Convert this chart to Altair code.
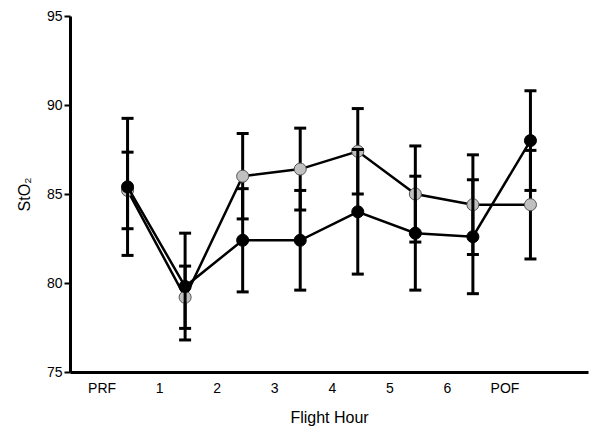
import altair as alt
import pandas as pd

categories = ["PRF", "1", "2", "3", "4", "5", "6", "POF"]
black_mean = [85.4, 79.8, 82.4, 82.4, 84.0, 82.8, 82.6, 88.0]
black_err = [3.85, 3.0, 2.9, 2.8, 3.5, 3.2, 3.2, 2.8]
gray_mean = [85.2, 79.2, 86.0, 86.4, 87.4, 85.0, 84.4, 84.4]
gray_err = [2.15, 1.75, 2.4, 2.3, 2.4, 2.7, 2.8, 3.05]
y_ticks = [75, 80, 85, 90, 95]

def frame(means, errs):
    return pd.DataFrame({
        "hour": categories,
        "mean": means,
        "lo": [m - e for m, e in zip(means, errs)],
        "hi": [m + e for m, e in zip(means, errs)],
    })

FONT = "Liberation Sans"

x_enc = alt.X("hour:N", sort=categories, scale=alt.Scale(type="point", padding=1),
              axis=alt.Axis(title="Flight Hour", labelAngle=0, ticks=False, labelOffset=-26,
                            labelPadding=9, titlePadding=14))
y_scale = alt.Scale(domain=[75, 95], nice=False, zero=False)
y_axis = alt.Axis(title="StO₂", values=y_ticks, tickSize=6, tickWidth=2, titlePadding=14)

def series(df, fill, stroke):
    base = alt.Chart(df)
    rule = base.mark_rule(color="black", strokeWidth=3, opacity=1).encode(
        x=x_enc, y=alt.Y("lo:Q", scale=y_scale, axis=y_axis), y2="hi:Q")
    cap_lo = base.mark_tick(color="black", size=12, thickness=3, orient="horizontal",
                            opacity=1).encode(
        x=x_enc, y=alt.Y("lo:Q", scale=y_scale, axis=y_axis))
    cap_hi = base.mark_tick(color="black", size=12, thickness=3, orient="horizontal",
                            opacity=1).encode(
        x=x_enc, y=alt.Y("hi:Q", scale=y_scale, axis=y_axis))
    line = base.mark_line(color="black", strokeWidth=2.5).encode(
        x=x_enc, y=alt.Y("mean:Q", scale=y_scale, axis=y_axis))
    pts = base.mark_point(filled=True, shape="circle", size=145, fill=fill, stroke=stroke,
                          strokeWidth=1, opacity=1).encode(
        x=x_enc, y=alt.Y("mean:Q", scale=y_scale, axis=y_axis))
    return [rule, cap_lo, cap_hi, line, pts]

layers = series(frame(gray_mean, gray_err), "#c0c0c0", "#555555") + \
         series(frame(black_mean, black_err), "#000000", "#000000")

chart = alt.layer(*layers).properties(
    width=518, height=356,
    background="white",
    autosize=alt.AutoSizeParams(type="none"),
    padding={"left": 62, "top": 8, "right": 5, "bottom": 56},
).configure_view(stroke=None).configure_axis(
    grid=False, domainColor="black", domainWidth=3, tickColor="black",
    labelFont=FONT, labelFontSize=14, labelColor="black",
    titleFont=FONT, titleFontSize=16, titleFontWeight="normal", titleColor="black",
)

chart.save("out.html", embed_options={"renderer": "svg", "actions": False})
